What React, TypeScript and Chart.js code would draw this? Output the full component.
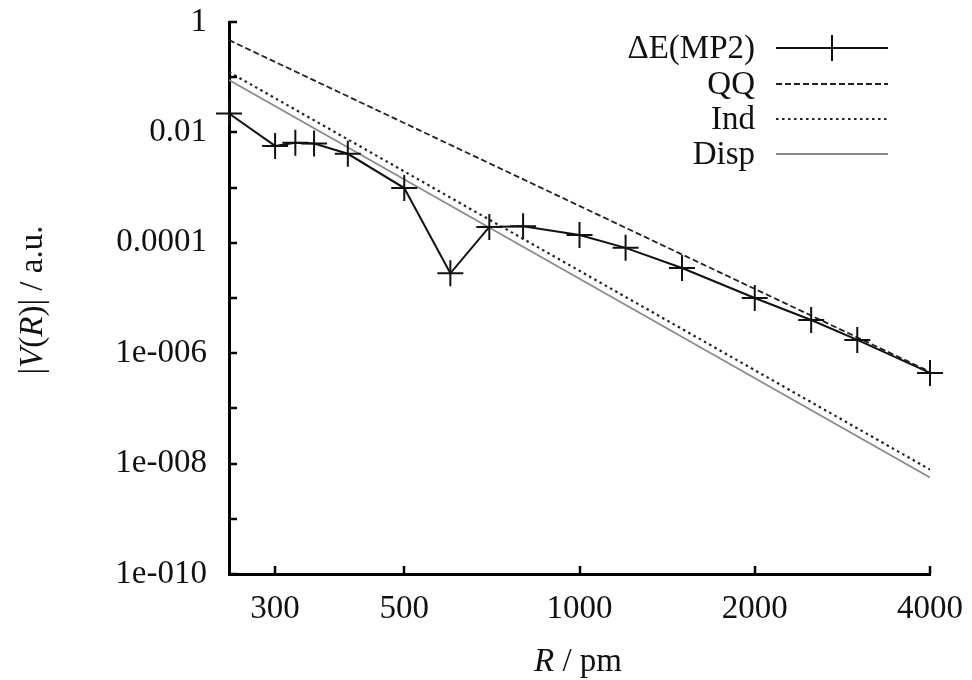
import React, { useEffect, useRef } from 'react';
import { Chart, registerables } from 'chart.js';

Chart.register(...registerables);

// ---- data ----
const rValues = [250, 300, 325, 350, 400, 500, 600, 700, 800, 1000, 1200, 1500, 2000, 2500, 3000, 4000];
const deltaEValues = [0.022, 0.0057, 0.0065, 0.0063, 0.0041, 0.00098, 2.8e-5, 1.94e-4, 2.0e-4, 1.38e-4, 8.1e-5, 3.5e-5, 1.0e-5, 4.0e-6, 1.74e-6, 4.4e-7];
const lineR = [250, 4000];
const qqValues = [0.47, 4.6e-7];
const indValues = [0.124, 7.8e-9];
const dispValues = [0.089, 5.6e-9];

const xTickValues = [300, 500, 1000, 2000, 4000];
const xTickLabels = ['300', '500', '1000', '2000', '4000'];
const yTickValues = [1, 1e-2, 1e-4, 1e-6, 1e-8, 1e-10];
const yTickLabels = ['1', '0.01', '0.0001', '1e-006', '1e-008', '1e-010'];
const yTickMarks = [1, 1e-1, 1e-2, 1e-3, 1e-4, 1e-5, 1e-6, 1e-7, 1e-8, 1e-9, 1e-10];

const seriesLabels = ['\u0394E(MP2)', 'QQ', 'Ind', 'Disp'];

const FONT_FAMILY = "'Liberation Serif', 'DejaVu Serif', serif";
const FONT_SIZE = 33;
const TEXT_COLOR = '#111';

type Seg = { t: string; it?: boolean };
const yTitle: Seg[] = [{ t: '|' }, { t: 'V', it: true }, { t: '(' }, { t: 'R', it: true }, { t: ')| / a.u.' }];
const xTitle: Seg[] = [{ t: 'R', it: true }, { t: ' / pm' }];

function drawSegs(ctx: CanvasRenderingContext2D, segs: Seg[], cx: number, cy: number) {
  const fontOf = (s: Seg) => `${s.it ? 'italic ' : ''}${FONT_SIZE}px ${FONT_FAMILY}`;
  let total = 0;
  const widths = segs.map((s) => {
    ctx.font = fontOf(s);
    const w = ctx.measureText(s.t).width;
    total += w;
    return w;
  });
  let x = cx - total / 2;
  ctx.textAlign = 'left';
  ctx.textBaseline = 'middle';
  ctx.fillStyle = TEXT_COLOR;
  segs.forEach((s, i) => {
    ctx.font = fontOf(s);
    ctx.fillText(s.t, x, cy);
    x += widths[i];
  });
}

const decorPlugin = {
  id: 'decor',
  afterDraw(chart: any) {
    const { ctx, chartArea, scales } = chart;
    ctx.save();
    // inward tick marks
    ctx.strokeStyle = '#000';
    ctx.lineWidth = 2.5;
    yTickMarks.forEach((v) => {
      const y = Math.round(scales.y.getPixelForValue(v));
      ctx.beginPath();
      ctx.moveTo(chartArea.left, y);
      ctx.lineTo(chartArea.left + 8, y);
      ctx.stroke();
    });
    xTickValues.forEach((v) => {
      const x = Math.round(scales.x.getPixelForValue(v));
      ctx.beginPath();
      ctx.moveTo(x, chartArea.bottom);
      ctx.lineTo(x, chartArea.bottom - 8);
      ctx.stroke();
    });

    // legend (text right-aligned, sample to the right)
    const textRight = 755;
    const sampleL = 776;
    const sampleR = 888;
    const rowY = [48, 84, 119, 154];
    chart.data.datasets.forEach((ds: any, i: number) => {
      const y = rowY[i];
      ctx.font = `${FONT_SIZE}px ${FONT_FAMILY}`;
      ctx.fillStyle = TEXT_COLOR;
      ctx.textAlign = 'right';
      ctx.textBaseline = 'middle';
      ctx.fillText(ds.label, textRight, y + 1);
      ctx.strokeStyle = ds.borderColor;
      ctx.lineWidth = ds.borderWidth;
      ctx.setLineDash(ds.borderDash || []);
      ctx.beginPath();
      ctx.moveTo(sampleL, y);
      ctx.lineTo(sampleR, y);
      ctx.stroke();
      ctx.setLineDash([]);
      if (ds.pointStyle === 'cross' && ds.pointRadius > 0) {
        const cx = (sampleL + sampleR) / 2;
        ctx.lineWidth = ds.pointBorderWidth;
        ctx.beginPath();
        ctx.moveTo(cx, y - ds.pointRadius);
        ctx.lineTo(cx, y + ds.pointRadius);
        ctx.stroke();
      }
    });

    // axis titles
    ctx.save();
    ctx.translate(33, 300);
    ctx.rotate(-Math.PI / 2);
    drawSegs(ctx, yTitle, 0, 0);
    ctx.restore();
    drawSegs(ctx, xTitle, 578, 662);
    ctx.restore();
  },
};

export default function App() {
  const canvasRef = useRef<HTMLCanvasElement | null>(null);

  useEffect(() => {
    document.body.style.margin = '0';
    const canvas = canvasRef.current;
    if (!canvas) return;
    const toPts = (xs: number[], ys: number[]) => xs.map((x, i) => ({ x, y: ys[i] }));
    const tickFont = { family: FONT_FAMILY, size: FONT_SIZE };
    const chart = new Chart(canvas, {
      type: 'line',
      data: {
        datasets: [
          {
            label: seriesLabels[0],
            data: toPts(rValues, deltaEValues),
            borderColor: '#111',
            borderWidth: 2,
            pointStyle: 'cross',
            pointRadius: 13,
            pointBorderWidth: 2,
            pointBorderColor: '#111',
            pointBackgroundColor: '#111',
            tension: 0,
            clip: false,
          } as any,
          {
            label: seriesLabels[1],
            data: toPts(lineR, qqValues),
            borderColor: '#222',
            borderWidth: 1.8,
            borderDash: [6, 3],
            pointRadius: 0,
          },
          {
            label: seriesLabels[2],
            data: toPts(lineR, indValues),
            borderColor: '#222',
            borderWidth: 2.2,
            borderDash: [2.5, 3.5],
            pointRadius: 0,
          },
          {
            label: seriesLabels[3],
            data: toPts(lineR, dispValues),
            borderColor: '#8a8a8a',
            borderWidth: 1.8,
            pointRadius: 0,
          },
        ],
      },
      options: {
        responsive: false,
        animation: false,
        events: [],
        layout: { padding: { top: 22, right: 42, left: 0, bottom: 0 } },
        plugins: {
          legend: { display: false },
          tooltip: { enabled: false },
          title: { display: false },
        },
        scales: {
          x: {
            type: 'logarithmic',
            min: 250,
            max: 4000,
            afterBuildTicks: (scale: any) => {
              scale.ticks = xTickValues.map((v) => ({ value: v }));
            },
            afterFit: (scale: any) => {
              scale.height = 106;
              scale.paddingLeft = 0;
              scale.paddingRight = 0;
            },
            ticks: {
              autoSkip: false,
              maxRotation: 0,
              padding: 16,
              color: TEXT_COLOR,
              font: tickFont,
              callback: (value: any) => {
                const i = xTickValues.indexOf(Number(value));
                return i >= 0 ? xTickLabels[i] : '';
              },
            },
            grid: { display: false, drawTicks: false },
            border: { display: true, color: '#000', width: 3 },
          },
          y: {
            type: 'logarithmic',
            min: 1e-10,
            max: 1,
            afterBuildTicks: (scale: any) => {
              scale.ticks = yTickValues.map((v) => ({ value: v }));
            },
            afterFit: (scale: any) => {
              scale.width = 229;
              scale.paddingTop = 0;
              scale.paddingBottom = 0;
            },
            ticks: {
              autoSkip: false,
              padding: 22,
              color: TEXT_COLOR,
              font: tickFont,
              callback: (value: any) => {
                const v = Number(value);
                const i = yTickValues.findIndex((t) => Math.abs(Math.log10(t) - Math.log10(v)) < 1e-6);
                return i >= 0 ? yTickLabels[i] : '';
              },
            },
            grid: { display: false, drawTicks: false },
            border: { display: true, color: '#000', width: 3 },
          },
        },
      },
      plugins: [decorPlugin],
    });
    return () => chart.destroy();
  }, []);

  return (
    <div style={{ position: 'absolute', left: 0, top: 0, width: 972, height: 680, background: '#fff' }}>
      <canvas ref={canvasRef} width={972} height={680} style={{ display: 'block' }} />
    </div>
  );
}
